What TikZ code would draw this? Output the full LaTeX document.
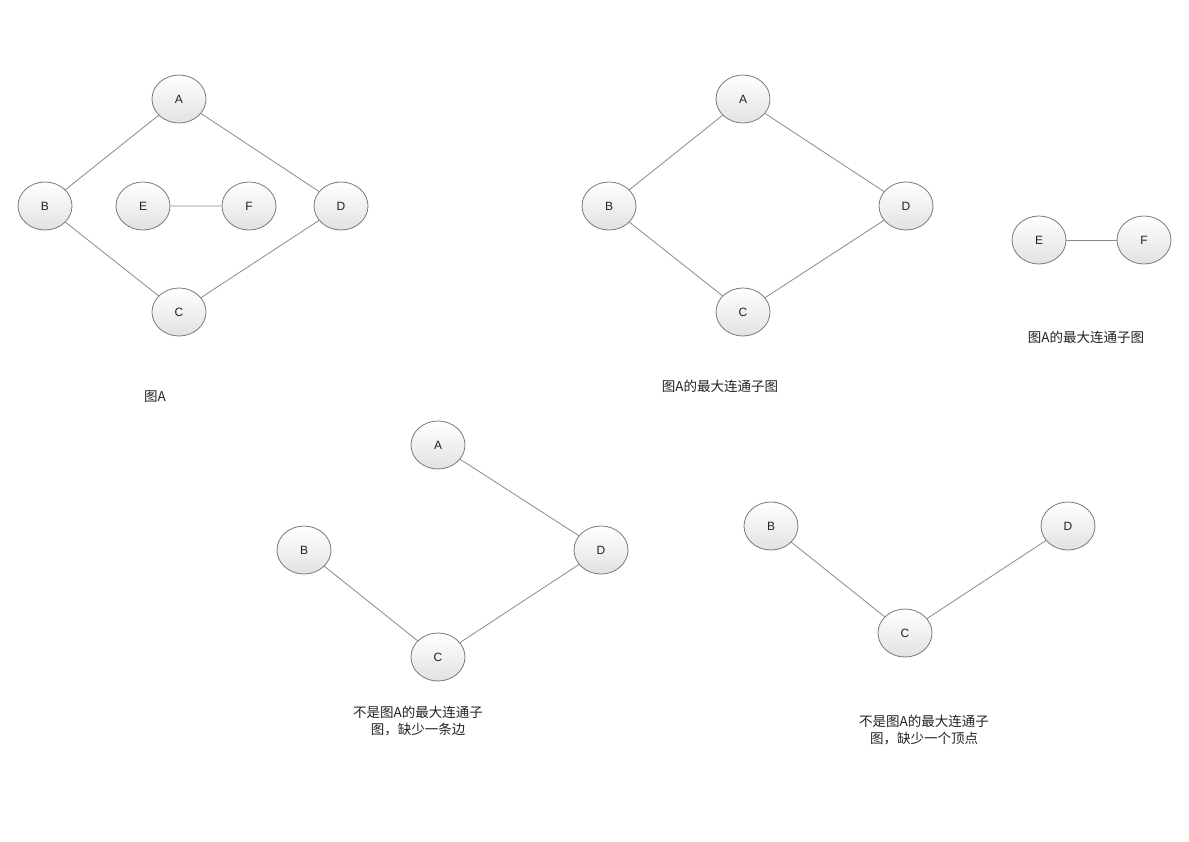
\documentclass[tikz,border=0pt]{standalone}
\usepackage{xcolor}
\usepackage{fontspec}
\usepackage{tikz}
\usetikzlibrary{shapes.geometric}
\setmainfont{Liberation Sans}
\newfontfamily\cjk{Noto Sans CJK SC}
\definecolor{vertEdge}{HTML}{7A7A7A}
\definecolor{vertTop}{HTML}{FFFFFF}
\definecolor{vertBottom}{HTML}{E2E2E2}
\definecolor{lineGray}{HTML}{8A8A8A}
\definecolor{capInk}{HTML}{222222}
\tikzset{
  vert/.style={ellipse, draw=vertEdge, line width=0.8pt, top color=vertTop,
    bottom color=vertBottom, minimum width=54pt, minimum height=48pt,
    inner sep=0pt, font=\fontsize{12}{12}\selectfont, text=capInk},
  link/.style={draw=lineGray, line width=0.8pt},
  caption/.style={font=\cjk\fontsize{13.5}{17}\selectfont, text=capInk, align=center}
}

\begin{document}
\begin{tikzpicture}[x=1pt,y=-1pt]
  \useasboundingbox (0,0) rectangle (1189,841);
  % Graph A
  \node[vert] (a1) at (179,99) {A};
  \node[vert] (b1) at (45,206) {B};
  \node[vert] (d1) at (341,206) {D};
  \node[vert] (c1) at (179,312) {C};
  \node[vert] (e1) at (143,206) {E};
  \node[vert] (f1) at (249,206) {F};
  \draw[link] (a1) -- (b1) (b1) -- (c1) (c1) -- (d1) (d1) -- (a1) (e1) -- (f1);
  \node[caption] (t1) at (155,397) {图A};
  % Maximal connected subgraphs
  \node[vert] (a2) at (743,99) {A};
  \node[vert] (b2) at (609,206) {B};
  \node[vert] (d2) at (906,206) {D};
  \node[vert] (c2) at (743,312) {C};
  \draw[link] (a2) -- (b2) (b2) -- (c2) (c2) -- (d2) (d2) -- (a2);
  \node[caption] (t2) at (720,386) {图A的最大连通子图};
  \node[vert] (e2) at (1039,240) {E};
  \node[vert] (f2) at (1144,240) {F};
  \draw[link] (e2) -- (f2);
  \node[caption] (t3) at (1086,337) {图A的最大连通子图};
  % Missing an edge
  \node[vert] (a3) at (438,445) {A};
  \node[vert] (b3) at (304,550) {B};
  \node[vert] (d3) at (601,550) {D};
  \node[vert] (c3) at (438,657) {C};
  \draw[link] (a3) -- (d3) (d3) -- (c3) (c3) -- (b3);
  \node[caption] (t4) at (418,721) {不是图A的最大连通子\\图，缺少一条边};
  % Missing a vertex
  \node[vert] (b4) at (771,526) {B};
  \node[vert] (d4) at (1068,526) {D};
  \node[vert] (c4) at (905,633) {C};
  \draw[link] (b4) -- (c4) (c4) -- (d4);
  \node[caption] (t5) at (924,730) {不是图A的最大连通子\\图，缺少一个顶点};
\end{tikzpicture}
\end{document}
